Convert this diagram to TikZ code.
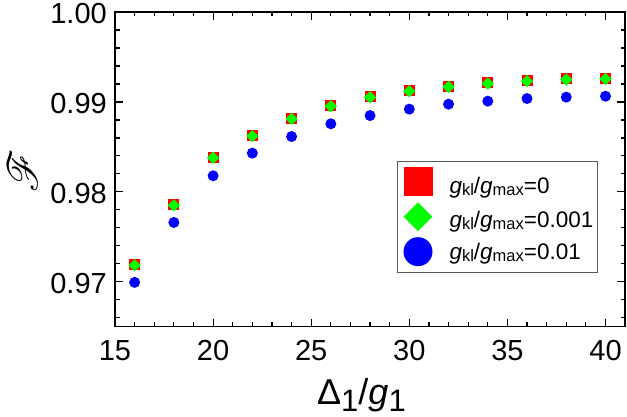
\documentclass[tikz,border=0pt]{standalone}
\usepackage{fontspec}
\setmainfont{Liberation Sans}
\usepackage{mathrsfs}
\usetikzlibrary{shapes.geometric}
\definecolor{mred}{RGB}{255,0,0}
\definecolor{mgreen}{RGB}{0,255,0}
\definecolor{mblue}{RGB}{0,0,255}
\definecolor{leggray}{RGB}{90,90,90}
\newcommand\lgdtext[1]{\fontsize{22.5}{24}\selectfont\textit{g}\raisebox{-2pt}{\fontsize{16.5}{17}\selectfont kl}/\textit{g}\raisebox{-2pt}{\fontsize{16.5}{17}\selectfont max}=#1}
\tikzset{
  axisline/.style={line width=1.4pt, black},
  tickline/.style={line width=1.2pt, black},
  ticklab/.style={inner sep=0pt, font=\fontsize{29}{29}\selectfont},
  sqmark/.style={rectangle, fill=mred, inner sep=0pt, minimum size=11pt},
  dmmark/.style={diamond, aspect=1, fill=mgreen, inner sep=0pt, minimum width=12.5pt, minimum height=12.5pt},
  cimark/.style={circle, fill=mblue, inner sep=0pt, minimum size=11pt},
}
\begin{document}
\begin{tikzpicture}[x=1pt,y=1pt]
\useasboundingbox (0,0) rectangle (627,417);
\begin{scope}[shift={(115,90.3)},x=19.62pt,y=8991pt]
  % data
  \foreach \x/\a/\b in {16/0.97189/0.96992, 18/0.97856/0.97659, 20/0.98386/0.98178,
      22/0.98626/0.98430, 24/0.98819/0.98614, 26/0.98959/0.98756, 28/0.99059/0.98848,
      30/0.99126/0.98920, 32/0.99174/0.98974, 34/0.99211/0.99008, 36/0.99237/0.99037,
      38/0.99256/0.99052, 40/0.99263/0.99063}{
    \node[sqmark] (r\x) at ({\x-15},{\a-0.965}) {};
    \node[dmmark] (g\x) at ({\x-15},{\a-0.96508}) {};
    \node[cimark] (b\x) at ({\x-15},{\b-0.965}) {};
  }
  % frame
  \draw[axisline] (0,0) rectangle (26,0.035);
  % x ticks
  \foreach \i in {1,...,25}{
    \pgfmathsetmacro\tl{mod(\i,5)==0 ? 8 : 4.5}
    \draw[tickline] (\i,0) -- ++(0,\tl pt);
    \draw[tickline] (\i,0.035) -- ++(0,-\tl pt);
  }
  \foreach \i/\lab in {0/15,5/20,10/25,15/30,20/35,25/40}{
    \node[ticklab, anchor=north, yshift=-13.3pt] (xl\lab) at (\i,0) {\lab};
  }
  % y ticks
  \foreach \k in {0,...,17}{
    \pgfmathsetmacro\tl{mod(\k+3,5)==0 ? 8 : 4.5}
    \pgfmathsetmacro\yy{0.001+0.002*\k}
    \draw[tickline] (0,\yy) -- ++(\tl pt,0);
    \draw[tickline] (26,\yy) -- ++(-\tl pt,0);
  }
  \foreach \yy/\lab in {0.005/0.97,0.015/0.98,0.025/0.99,0.035/1.00}{
    \node[ticklab, anchor=east, xshift=-8pt, yshift=-1.5pt] (yl\lab) at (0,\yy) {\lab};
  }
\end{scope}
% legend
\node[draw=leggray, line width=0.9pt, minimum width=199.4pt, minimum height=111pt, inner sep=0pt, anchor=south west] (leg) at (397.3,144.3) {};
\node[sqmark, minimum size=29pt] (lr) at (418,235.3) {};
\node[dmmark, minimum width=29pt, minimum height=29pt] (lg) at (418,200.3) {};
\node[cimark, minimum size=29pt] (lb) at (418,165.3) {};
\node[anchor=base west, inner sep=0pt] (lt1) at (449.3,223.7) {\lgdtext{0}};
\node[anchor=base west, inner sep=0pt] (lt2) at (449.3,189.7) {\lgdtext{0.001}};
\node[anchor=base west, inner sep=0pt] (lt3) at (449.3,157) {\lgdtext{0.01}};
% axis labels
\node[anchor=base west, inner sep=0pt] (xlab) at (317,12) {\fontsize{36}{36}\selectfont Δ\raisebox{-6.5pt}{\fontsize{31}{31}\selectfont 1}/\textit{g}\raisebox{-6.5pt}{\fontsize{31}{31}\selectfont 1}};
\node[rotate=90, scale=4.2, inner sep=0pt] (ylab) at (23,246) {$\mathscr{F}$};
\end{tikzpicture}
\end{document}
